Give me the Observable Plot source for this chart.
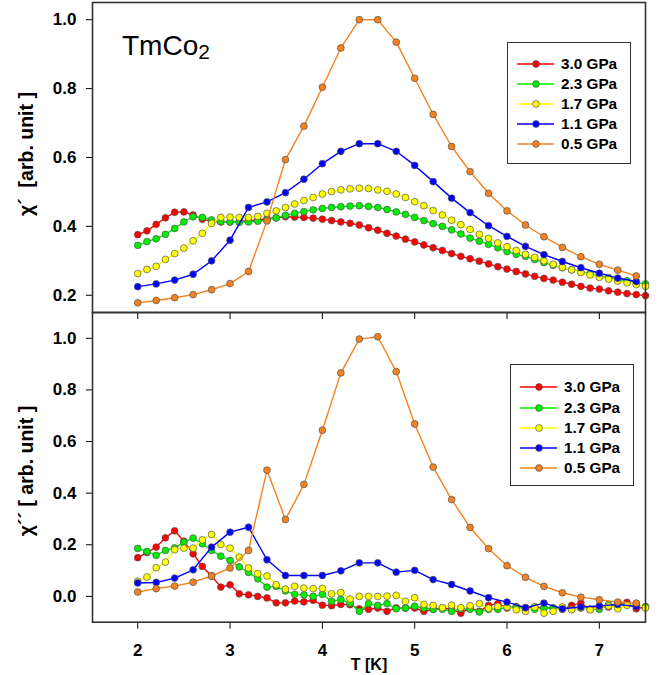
<!DOCTYPE html>
<html><head><meta charset="utf-8">
<script src="https://cdn.jsdelivr.net/npm/d3@7"></script>
<script src="https://cdn.jsdelivr.net/npm/@observablehq/plot@0.6"></script>
<style>
body{margin:0;background:#fff;}
#wrap{position:relative;width:666px;height:675px;font-family:"Liberation Sans",Arial,sans-serif;overflow:hidden;}
.pl{position:absolute;left:0;}
.ylab{position:absolute;font-weight:bold;font-size:19.5px;white-space:nowrap;transform:translate(-50%,-50%) rotate(-90deg);}
.xlab{position:absolute;font-weight:bold;font-size:16px;white-space:nowrap;transform:translate(-50%,-50%);}
.title{position:absolute;font-size:28px;white-space:nowrap;}
.legend{position:absolute;border:1.5px solid #333;background:#fff;box-sizing:border-box;}
.lrow{position:absolute;left:0;height:20px;display:flex;align-items:center;}
.lrow span{font-weight:bold;font-size:15.3px;margin-left:7px;}
</style></head><body><div id="wrap"></div>
<script>
// Temperatures (K)
const T_FINE = [2.0,2.1,2.2,2.3,2.4,2.5,2.6,2.7,2.8,2.9,3.0,3.1,3.2,3.3,3.4,3.5,3.6,3.7,3.8,3.9,4.0,4.1,4.2,4.3,4.4,4.5,4.6,4.7,4.8,4.9,5.0,5.1,5.2,5.3,5.4,5.5,5.6,5.7,5.8,5.9,6.0,6.1,6.2,6.3,6.4,6.5,6.6,6.7,6.8,6.9,7.0,7.1,7.2,7.3,7.4,7.5];
const T_COARSE = [2.0,2.2,2.4,2.6,2.8,3.0,3.2,3.4,3.6,3.8,4.0,4.2,4.4,4.6,4.8,5.0,5.2,5.4,5.6,5.8,6.0,6.2,6.4,6.6,6.8,7.0,7.2,7.4];

const PRESSURES = ["3.0 GPa","2.3 GPa","1.7 GPa","1.1 GPa","0.5 GPa"];
const COLORS = ["#ff0000","#00ee00","#ffff00","#0000ff","#f5821f"];

// chi' (top panel)
const CHI1_30 = [0.376,0.387,0.406,0.425,0.441,0.442,0.433,0.421,0.415,0.413,0.413,0.414,0.416,0.419,0.422,0.425,0.428,0.427,0.426,0.424,0.421,0.417,0.413,0.409,0.404,0.396,0.389,0.380,0.372,0.363,0.355,0.346,0.338,0.330,0.321,0.313,0.306,0.299,0.291,0.283,0.276,0.269,0.262,0.255,0.249,0.244,0.238,0.232,0.226,0.221,0.218,0.213,0.209,0.205,0.202,0.199];
const CHI1_23 = [0.345,0.356,0.364,0.377,0.394,0.413,0.428,0.426,0.419,0.414,0.413,0.412,0.413,0.415,0.419,0.425,0.432,0.438,0.443,0.448,0.452,0.455,0.457,0.459,0.460,0.458,0.455,0.449,0.442,0.435,0.426,0.417,0.408,0.400,0.390,0.378,0.366,0.357,0.348,0.338,0.327,0.319,0.313,0.304,0.295,0.287,0.280,0.274,0.268,0.262,0.256,0.251,0.246,0.242,0.237,0.233];
const CHI1_17 = [0.263,0.275,0.284,0.304,0.321,0.337,0.358,0.380,0.409,0.426,0.427,0.426,0.426,0.429,0.438,0.445,0.455,0.465,0.475,0.484,0.494,0.501,0.506,0.509,0.511,0.510,0.506,0.502,0.494,0.484,0.472,0.460,0.446,0.433,0.418,0.405,0.391,0.377,0.365,0.352,0.341,0.330,0.319,0.310,0.300,0.290,0.281,0.274,0.266,0.259,0.252,0.247,0.241,0.236,0.231,0.226];
const CHI1_11 = [0.225,0.233,0.244,0.261,0.300,0.360,0.455,0.471,0.498,0.537,0.582,0.618,0.640,0.640,0.618,0.577,0.530,0.482,0.440,0.402,0.371,0.342,0.318,0.298,0.280,0.264,0.250,0.240];
const CHI1_05 = [0.178,0.185,0.193,0.202,0.216,0.234,0.269,0.416,0.594,0.691,0.804,0.918,1.000,1.000,0.935,0.830,0.725,0.632,0.559,0.496,0.445,0.404,0.370,0.339,0.312,0.290,0.273,0.256];

// chi'' (bottom panel)
const CHI2_30 = [0.150,0.170,0.191,0.227,0.254,0.214,0.165,0.116,0.079,0.036,0.045,0.010,0.006,0.000,-0.006,-0.025,-0.025,-0.018,-0.021,-0.015,-0.034,-0.036,-0.031,-0.032,-0.048,-0.050,-0.045,-0.058,-0.045,-0.045,-0.045,-0.058,-0.050,-0.045,-0.050,-0.065,-0.045,-0.058,-0.035,-0.028,-0.045,-0.040,-0.045,-0.041,-0.045,-0.045,-0.050,-0.035,-0.026,-0.050,-0.040,-0.041,-0.028,-0.023,-0.048,-0.041];
const CHI2_23 = [0.186,0.174,0.159,0.178,0.188,0.210,0.226,0.204,0.178,0.156,0.139,0.114,0.093,0.068,0.036,0.039,0.021,0.008,0.006,0.000,0.008,-0.019,-0.012,-0.026,-0.058,-0.028,-0.035,-0.028,-0.048,-0.045,-0.038,-0.045,-0.050,-0.050,-0.058,-0.048,-0.050,-0.060,-0.050,-0.050,-0.042,-0.042,-0.045,-0.050,-0.045,-0.045,-0.045,-0.050,-0.045,-0.050,-0.050,-0.032,-0.035,-0.032,-0.035,-0.040];
const CHI2_17 = [0.059,0.075,0.111,0.133,0.181,0.187,0.187,0.219,0.240,0.201,0.187,0.152,0.110,0.088,0.079,0.045,0.028,0.039,0.032,0.030,0.031,0.010,0.015,-0.010,0.000,0.000,0.000,0.001,0.004,-0.019,-0.005,-0.031,-0.035,-0.044,-0.034,-0.044,-0.036,-0.028,-0.046,-0.039,-0.041,-0.052,-0.058,-0.041,-0.065,-0.058,-0.041,-0.052,-0.044,-0.052,-0.041,-0.037,-0.048,-0.035,-0.028,-0.045];
const CHI2_11 = [0.052,0.054,0.071,0.103,0.191,0.249,0.268,0.142,0.081,0.081,0.081,0.099,0.130,0.130,0.094,0.101,0.065,0.046,0.021,-0.005,-0.022,-0.044,-0.026,-0.048,-0.041,-0.037,-0.031,-0.039];
const CHI2_05 = [0.017,0.030,0.040,0.055,0.079,0.110,0.178,0.489,0.298,0.434,0.644,0.866,0.997,1.006,0.871,0.668,0.501,0.375,0.267,0.185,0.119,0.074,0.039,0.014,-0.003,-0.013,-0.022,-0.026];

const X_TICKS = [2,3,4,5,6,7];
const Y1_TICKS = [0.2,0.4,0.6,0.8,1.0];
const Y2_TICKS = [0.0,0.2,0.4,0.6,0.8,1.0];

const TOP_SERIES = [[T_FINE,CHI1_30],[T_FINE,CHI1_23],[T_FINE,CHI1_17],[T_COARSE,CHI1_11],[T_COARSE,CHI1_05]];
const BOT_SERIES = [[T_FINE,CHI2_30],[T_FINE,CHI2_23],[T_FINE,CHI2_17],[T_COARSE,CHI2_11],[T_COARSE,CHI2_05]];

function rowsOf(list){
  return list.map(([T,V],i)=>T.map((t,j)=>({T:t,v:V[j],p:PRESSURES[i],c:COLORS[i]})));
}

function panel(list, yDomain, yTicks, opts){
  const marks = [];
  for (const rows of rowsOf(list)) {
    marks.push(Plot.line(rows,{x:"T",y:"v",stroke:rows[0].c,strokeWidth:1.4}));
    marks.push(Plot.dot(rows,{x:"T",y:"v",fill:rows[0].c,stroke:"#555",strokeWidth:0.7,r:3.4}));
  }
  marks.push(Plot.frame({stroke:"#333",strokeWidth:1.6}));
  return Plot.plot({
    width:666, height:opts.height,
    marginLeft:92, marginRight:21, marginTop:opts.mt, marginBottom:opts.mb,
    style:{background:"transparent",overflow:"visible",fontFamily:"Liberation Sans, Arial, sans-serif",fontSize:"17px",fontWeight:"bold",color:"#000"},
    x:{domain:[1.51,7.5],ticks:X_TICKS,tickSize:7,tickPadding:opts.xpad,tickFormat:opts.xfmt,label:null},
    y:{domain:yDomain,ticks:yTicks,tickSize:6,tickPadding:10,tickFormat:d3.format(".1f"),label:null},
    marks
  });
}

const wrap = document.getElementById("wrap");
const topSvg = panel(TOP_SERIES,[0.15,1.05],Y1_TICKS,{height:320,mt:2,mb:8,xpad:3,xfmt:()=>""});
topSvg.classList.add("pl"); topSvg.style.top="0px";
const botSvg = panel(BOT_SERIES,[-0.1,1.1],Y2_TICKS,{height:363,mt:0,mb:53.3,xpad:15,xfmt:d=>String(d)});
botSvg.classList.add("pl"); botSvg.style.top="312px";
wrap.appendChild(botSvg);
wrap.appendChild(topSvg);

function addDiv(cls, html, css){
  const d=document.createElement("div"); d.className=cls; d.innerHTML=html;
  Object.assign(d.style,css); wrap.appendChild(d); return d;
}
addDiv("ylab","χ´&nbsp; [arb. unit ]",{left:"26px",top:"154px"});
addDiv("ylab","χ´´ [ arb. unit ]",{left:"26px",top:"471px"});
addDiv("xlab","T [K]",{left:"369px",top:"665px"});
addDiv("title","TmCo<span style=\"font-size:21px;position:relative;top:4px\">2</span>",{left:"122px",top:"30px"});

function legend(left, tp, w, h, rowTops){
  const box = addDiv("legend","",{left:left+"px",top:tp+"px",width:w+"px",height:h+"px"});
  PRESSURES.forEach((p,i)=>{
    const r=document.createElement("div"); r.className="lrow";
    r.style.top=(rowTops[i]-tp-10)+"px"; r.style.left="9px";
    r.innerHTML=`<svg width="37" height="20"><line x1="0" y1="10" x2="37" y2="10" stroke="${COLORS[i]}" stroke-width="1.4"/><circle cx="19" cy="10" r="3.4" fill="${COLORS[i]}" stroke="#555" stroke-width="0.7"/></svg><span>${p}</span>`;
    box.appendChild(r);
  });
}
legend(507,42,124,122,[62.7,82.5,102.7,122.7,143.2]);
legend(510,364,124,122,[386,406.5,426.5,446.7,466.7]);
</script></body></html>
